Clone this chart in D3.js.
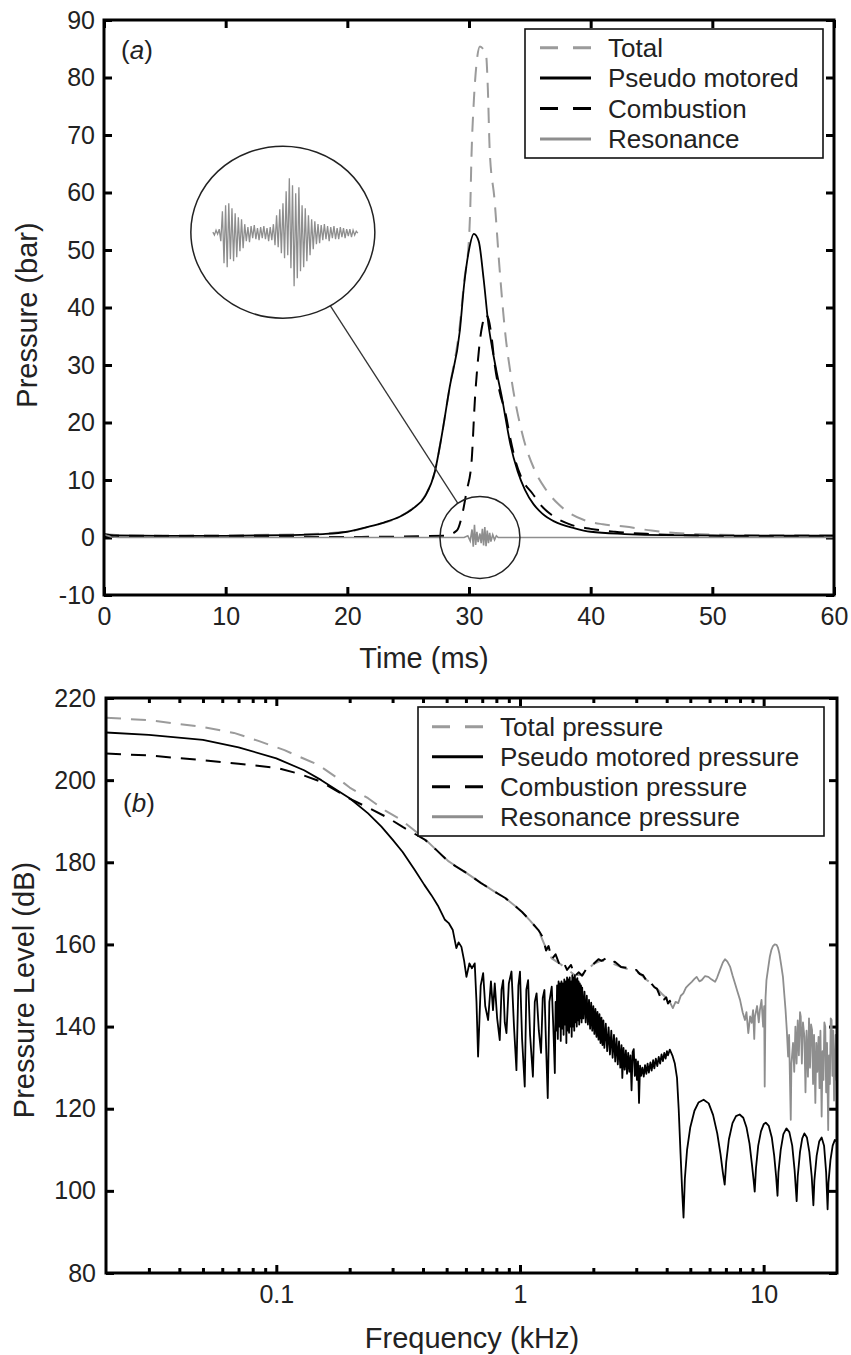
<!DOCTYPE html>
<html>
<head>
<meta charset="utf-8">
<script src="https://cdnjs.cloudflare.com/ajax/libs/d3/7.8.5/d3.min.js"></script>
<style>
body { margin: 0; background: #fff; }
svg text { font-family: "Liberation Sans", Arial, sans-serif; fill: #222; }
</style>
</head>
<body>
<script>
// ---- panel (a): time (ms) vs pressure (bar)
var totalA = [[0,0.6],[2,0.35],[10,0.4],[16,0.55],[20,1.0],[22,2.0],[24.3,3.6],[25.5,5.3],[26.4,7.3],[27.2,11.5],[27.7,17],[28.4,26],[29.25,37],[29.6,44.5],[30.0,52],[30.1,57],[30.2,66],[30.4,76],[30.6,82],[30.9,85.4],[31.15,85],[31.4,84],[31.55,78],[31.7,67.4],[32.1,58.7],[32.5,47.1],[32.95,36.1],[33.5,27.4],[34.3,18.7],[35.4,11.7],[36.3,8.4],[37.3,5.9],[38.3,4.2],[39.5,3.0],[41,2.3],[42.8,1.9],[45,1.2],[47,0.8],[50,0.5],[55,0.4],[60,0.4]];
var pseudoA = [[0,0.6],[1,0.35],[5,0.3],[10,0.3],[15,0.4],[18,0.6],[20,1.0],[21.6,1.8],[23,2.6],[24.3,3.6],[25.5,5.2],[26.4,7.2],[27.2,11.5],[27.7,17],[28.4,26],[29.25,36],[29.6,44],[30.0,50],[30.4,52.8],[30.8,51.5],[31.2,45],[31.6,37],[31.9,33],[32.3,28.5],[32.7,24.4],[33.0,20.8],[33.4,16.2],[34.0,11.5],[34.6,8.3],[35.3,5.8],[36.0,4.2],[37.0,2.8],[38.7,1.6],[40,1.0],[42.8,0.6],[46,0.4],[60,0.3]];
var combustionA = [[0,0.1],[20,0.1],[28,0.3],[29.0,1.2],[29.4,3.6],[29.8,8],[30.2,12.9],[30.5,24.5],[30.7,30],[30.9,34.3],[31.1,37],[31.35,38.8],[31.6,38],[31.85,35],[32.1,30.3],[32.5,25.5],[33.0,21.6],[33.4,17.2],[33.8,13.5],[34.4,10],[35.2,7.7],[36.0,5.4],[36.8,3.9],[38.4,2.2],[40,1.5],[42,1.0],[45,0.6],[50,0.3],[60,0.2]];
var resonanceA = [[0,0.5],[0.6,0.1],[1.2,0],[29.6,0],[29.9,0.3],[30.1,-0.6],[30.25,1.4],[30.35,-1.6],[30.45,2.2],[30.55,-1.3],[30.65,1.0],[30.75,-0.8],[30.9,0.7],[31.0,-1.0],[31.1,1.5],[31.2,-1.4],[31.3,1.8],[31.4,-1.5],[31.5,1.2],[31.6,-1.0],[31.7,0.8],[31.8,-0.7],[31.95,0.5],[32.1,-0.4],[32.25,0.3],[32.4,0],[60,0]];
// magnified resonance burst shown in the circle (relative amplitude)
var insetSignal = [1,-2,3,-1,4,
  -8,22,-30,28,-34,30,-26,25,-28,20,-24,16,-18,14,-15,
  9,-8,6,-9,7,-5,8,-6,5,-7,6,-5,7,-6,5,-8,6,-7,9,
  -12,18,-14,24,-20,30,-25,42,-22,55,-35,48,-53,40,-45,46,-38,28,-34,25,-28,18,-22,14,-16,
  12,-11,9,-10,8,-7,9,-6,7,-8,6,-5,7,-6,5,-6,6,-4,5,-5,4,-3,4,-4,3,-2,2,0];

// ---- panel (b): frequency (kHz) vs pressure level (dB)
var totalB = [[0.02,215.2],[0.03,214.6],[0.049,213],[0.067,211.5],[0.085,209.5],[0.108,207.3],[0.13,205.2],[0.149,203.7],[0.18,200.3],[0.2,198.2],[0.238,195.6],[0.28,192.6],[0.326,190.3],[0.405,185.8],[0.45,183.2],[0.51,180.2],[0.6,177.5],[0.69,175],[0.78,173],[0.87,171.3],[0.95,169.5],[1.02,167.9],[1.1,165.8],[1.19,163.5],[1.28,159],[1.35,156.6],[1.45,155.4],[1.56,154],[1.68,152.5],[1.8,152.6],[2.0,155.2],[2.16,156.1],[2.35,155.6],[2.6,154.5],[2.9,153.6],[3.1,153],[3.3,151.4],[3.47,150.5],[3.65,149.2],[3.82,148],[3.98,147],[4.12,146.2],[4.24,144.8]];
var pseudoB = [[0.02,211.6],[0.03,211.0],[0.05,209.8],[0.07,208.0],[0.1,205.3],[0.13,202.4],[0.153,200],[0.2,195.6],[0.238,191.9],[0.27,188.7],[0.3,185.5],[0.33,182.5],[0.37,178.1],[0.405,174.5],[0.433,172],[0.46,169.5],[0.492,166],[0.51,165.2],[0.53,163.5],[0.548,159.1],[0.56,160.5],[0.575,159.4],[0.59,156],[0.603,152.1],[0.62,155.4],[0.635,154.2],
  [0.652,155.4],[0.663,146],[0.673,132.7],[0.69,150],[0.706,153.0],[0.72,145],[0.74,141.6],[0.76,151],[0.775,144],[0.788,150.5],[0.806,142],[0.826,136.7],[0.84,149],[0.853,151.3],[0.866,141],[0.88,138.4],[0.9,150.5],[0.923,153.4],[0.945,140],[0.967,129.4],[0.985,150],[1.0,153.4],[1.02,137],[1.046,125.4],[1.062,149],[1.08,151.3],[1.1,138],[1.13,127.8],[1.15,146],[1.17,148.1],[1.195,139],[1.22,133.6],[1.24,147],[1.26,148.9],[1.28,135],[1.3,122.6],[1.32,146],[1.35,149.7],[1.37,140],[1.39,128.7],
  [1.40,146],[1.41,139],[1.42,150],[1.43,137],[1.44,151],[1.45,140],[1.46,150.5],[1.47,136.5],[1.48,151],[1.49,139.5],[1.50,150.5],[1.51,138],[1.52,151.5],[1.53,140.5],[1.54,151],[1.55,136],[1.56,152],[1.57,139],[1.58,151.5],[1.59,138.5],[1.60,152],[1.61,140],[1.62,151],[1.63,137.5],[1.64,152.5],[1.65,140],[1.66,152],[1.67,139],[1.68,152.5],[1.69,141],[1.70,151.5],[1.71,140],[1.72,151.8],[1.73,141.5],[1.74,151],[1.75,140.5],[1.76,150.5],[1.77,142],[1.78,150],[1.79,141],[1.80,149.5],[1.82,142],[1.84,148.5],[1.86,141],[1.88,147.5],[1.90,140.5],[1.92,146.5],[1.94,139.5],[1.96,145.8],[1.98,139],[2.00,145],[2.02,138.2],[2.04,144.3],[2.06,137.5],[2.08,143.6],[2.10,136.8],[2.12,143],[2.14,136],[2.16,142.2],[2.18,135.5],[2.20,141.5],[2.22,134.8],[2.25,140.7],[2.28,134],[2.31,139.8],[2.34,133.2],[2.37,139],[2.40,132.4],[2.43,138],[2.46,131.5],[2.49,137.2],[2.52,130.8],[2.55,136.4],[2.58,130],[2.61,135.5],[2.63,127.5],[2.66,134.8],[2.69,129.5],[2.72,134.2],[2.75,128.5],[2.78,133.6],[2.81,129],[2.84,133],[2.87,124.5],[2.9,133.8],[2.93,134.5],[2.96,128],[2.99,132],[3.02,127],[3.05,131.5],[3.08,121.4],[3.11,130.5],[3.14,128],[3.18,130],[3.22,127.8],[3.26,130.6],[3.3,128.5],[3.34,131],[3.38,128.8],[3.43,131.3],[3.47,129.3],[3.52,131.8],[3.56,129.8],[3.61,132.2],[3.66,130.4],[3.71,132.6],[3.76,131],[3.81,133.2],[3.86,131.6],[3.91,133.6],[3.96,132.2],[4.01,134],[4.05,133],[4.12,134.4],[4.22,133],[4.32,131],[4.41,127.5],[4.48,120],[4.56,109],[4.63,100],[4.69,93.5],
  [4.75,103],[4.85,110],[5.0,115.5],[5.2,119.5],[5.4,121.5],[5.67,122.2],[5.95,121.3],[6.2,118.5],[6.45,114],[6.65,109],[6.8,104.5],[6.92,101.5],
  [7.02,107],[7.2,112.5],[7.45,116.5],[7.7,118.2],[7.97,118.6],[8.25,117.8],[8.5,115.5],[8.75,111.5],[8.95,106.5],[9.1,102.5],[9.19,99.8],
  [9.3,105.5],[9.5,111],[9.75,114.5],[10.0,116.2],[10.2,116.6],[10.5,115.8],[10.8,113],[11.05,108.5],[11.25,103.5],[11.4,98.8],
  [11.5,104.5],[11.75,110],[12.05,113.8],[12.4,115.2],[12.75,114.3],[13.1,111],[13.4,105],[13.66,97.5],
  [13.8,103.5],[14.1,109.5],[14.4,112.8],[14.7,114],[15.05,113],[15.4,109.5],[15.75,103.5],[16.0,96.5],
  [16.15,102.5],[16.5,108.5],[16.9,112],[17.3,113],[17.7,111],[18.05,104.5],[18.3,95.5],
  [18.45,102],[18.8,107.5],[19.2,111],[19.6,112.4],[20.3,111.5]];
var combustionB = [[0.02,206.5],[0.03,206.0],[0.049,204.9],[0.07,204.0],[0.1,203],[0.125,201.5],[0.153,199.6],[0.2,195.5],[0.238,193.3],[0.288,190.8],[0.33,188.6],[0.405,185.6],[0.45,183.2],[0.51,180.1],[0.6,177.5],[0.69,175],[0.78,173],[0.87,171.3],[0.95,169.5],[1.02,167.9],[1.1,165.8],[1.19,163.5],[1.24,161.8],[1.28,158.5],[1.31,159.6],[1.35,156.4],[1.4,157.6],[1.45,155.2],[1.5,156.0],[1.56,153.8],[1.62,155.0],[1.68,152.3],[1.74,153.2],[1.8,152.4],[1.88,154.2],[2.0,155.2],[2.1,156.4],[2.16,156],[2.25,156.6],[2.35,155.5],[2.45,155.8],[2.6,154.5],[2.75,154.3],[2.9,153.5],[3.0,153.8],[3.1,152.8],[3.2,152.5],[3.3,151.2],[3.4,151.6],[3.47,150.4],[3.56,149.6],[3.65,149.2],[3.75,147.5],[3.82,148.2],[3.9,146.6],[3.98,147.1],[4.05,145.6],[4.12,146.3],[4.2,144.8]];
var resonanceB = [[4.11,146.1],[4.24,144.5],[4.35,146],[4.46,145.7],[4.57,147.5],[4.68,148.1],[4.8,149.5],[4.91,150.1],[5.07,150.9],[5.2,151.6],[5.31,152.1],[5.45,151],[5.57,151.3],[5.75,152.3],[5.93,152.1],[6.1,151.5],[6.32,150.9],[6.45,152],[6.62,153.8],[6.8,155.6],[6.94,156.4],[7.1,155.8],[7.28,154.6],[7.45,152.5],[7.63,150.5],[7.8,148.6],[8.0,146.5],[8.2,143.5],[8.38,141.6],[8.5,143.5],[8.65,138.4],[8.8,142.5],[8.93,140.9],[9.05,144],[9.15,137],[9.21,142.4],[9.4,145],[9.55,141],[9.65,144],[9.8,146.5],[9.95,140],[10.05,145],[10.1,125.4],[10.18,147],[10.27,151.3],[10.45,154.5],[10.6,157],[10.75,158.6],[10.9,159.5],[11.1,160],[11.3,159.9],[11.45,159.2],[11.6,157.8],[11.8,155],[12.0,152.1],[12.15,148],[12.3,144],[12.45,139],[12.6,132.7],[12.72,138],[12.85,124],[12.92,117.3],[13.0,131],[13.2,136],[13.35,129],[13.5,140],[13.65,131],[13.8,141.5],[13.95,133],[14.1,143.5],[14.2,142.4],[14.35,131],[14.5,141],[14.7,137.5],[14.85,124],[15.0,139],[15.2,127.8],[15.35,142],[15.5,130],[15.65,140.5],[15.8,139.2],[15.95,126],[16.1,138],[16.3,121.4],[16.45,136],[16.6,129],[16.8,137.5],[16.95,125],[17.1,139],[17.3,118.1],[17.45,134],[17.6,127],[17.75,141],[17.9,140],[18.05,124],[18.2,136],[18.4,114.8],[18.55,133],[18.7,126],[18.85,142],[19.0,141.6],[19.15,128],[19.3,139],[19.45,122],[19.6,131],[19.75,138],[19.9,127],[20.05,144],[20.3,142]];

var legendA = ["Total", "Pseudo motored", "Combustion", "Resonance"];
var legendB = ["Total pressure", "Pseudo motored pressure", "Combustion pressure", "Resonance pressure"];
var timeTicks = [0, 10, 20, 30, 40, 50, 60];
var pressureTicks = [-10, 0, 10, 20, 30, 40, 50, 60, 70, 80, 90];
var freqMajor = [0.1, 1, 10];
var freqMinor = [0.03, 0.04, 0.05, 0.06, 0.07, 0.08, 0.09, 0.2, 0.3, 0.4, 0.5, 0.6, 0.7, 0.8, 0.9, 2, 3, 4, 5, 6, 7, 8, 9];
var levelTicks = [80, 100, 120, 140, 160, 180, 200, 220];

// line styles, in legend order
var styles = [
    {color: "#9b9b9b", dash: "15,10", width: 2},
    {color: "#000", dash: null, width: 1.8},
    {color: "#000", dash: "15,10", width: 2},
    {color: "#8e8e8e", dash: null, width: 1.8}
];

var svg = d3.select("body").append("svg")
    .attr("width", 851)
    .attr("height", 1355);

function styleAxis(g, size) {
    g.select(".domain").remove();
    g.attr("font-size", size).attr("font-family", "Liberation Sans, Arial, sans-serif");
    g.selectAll(".tick line").attr("stroke", "#000").attr("stroke-width", 3);
    g.selectAll(".tick text").attr("fill", "#222");
}

function drawFrame(p) {
    svg.append("rect")
        .attr("x", p.left).attr("y", p.top)
        .attr("width", p.right - p.left).attr("height", p.bottom - p.top)
        .attr("fill", "none").attr("stroke", "#000").attr("stroke-width", 3);
}

function drawLegend(labels, box, rowY, lineX, textX) {
    svg.append("rect")
        .attr("x", box.x).attr("y", box.y).attr("width", box.w).attr("height", box.h)
        .attr("fill", "#fff").attr("stroke", "#111").attr("stroke-width", 1.6);
    var row = svg.selectAll(null).data(labels).enter().append("g")
        .attr("transform", function(d, i) { return "translate(0," + (rowY + i * box.step) + ")"; });
    row.append("line")
        .attr("x1", lineX).attr("x2", lineX + 51)
        .attr("stroke", function(d, i) { return styles[i].color; })
        .attr("stroke-width", 3)
        .attr("stroke-dasharray", function(d, i) { return styles[i].dash ? "18,15" : null; });
    row.append("text")
        .attr("x", textX).attr("y", 9)
        .attr("font-size", 26)
        .text(function(d) { return d; });
}

var plainNum = function(d) { return String(d); };

// ================= panel (a)
var a = {left: 104, right: 834, top: 20, bottom: 595};
var xA = d3.scaleLinear().domain([0, 60]).range([a.left, a.right]);
var yA = d3.scaleLinear().domain([-10, 90]).range([a.bottom, a.top]);

svg.append("clipPath").attr("id", "clipA").append("rect")
    .attr("x", a.left).attr("y", a.top).attr("width", a.right - a.left).attr("height", a.bottom - a.top);

svg.append("g").attr("transform", "translate(0," + a.bottom + ")")
    .call(d3.axisBottom(xA).tickValues(timeTicks).tickSizeInner(-8).tickSizeOuter(0).tickPadding(12).tickFormat(plainNum))
    .call(styleAxis, 25);
svg.append("g").attr("transform", "translate(0," + a.top + ")")
    .call(d3.axisTop(xA).tickValues(timeTicks).tickSizeInner(-8).tickSizeOuter(0).tickFormat(""))
    .call(styleAxis, 25);
svg.append("g").attr("transform", "translate(" + a.left + ",0)")
    .call(d3.axisLeft(yA).tickValues(pressureTicks).tickSizeInner(-8).tickSizeOuter(0).tickPadding(9).tickFormat(plainNum))
    .call(styleAxis, 25);
svg.append("g").attr("transform", "translate(" + a.right + ",0)")
    .call(d3.axisRight(yA).tickValues(pressureTicks).tickSizeInner(-8).tickSizeOuter(0).tickFormat(""))
    .call(styleAxis, 25);

var lineA = d3.line().x(function(d) { return xA(d[0]); }).y(function(d) { return yA(d[1]); })
    .curve(d3.curveMonotoneX);
var lineALin = d3.line().x(function(d) { return xA(d[0]); }).y(function(d) { return yA(d[1]); });

var plotA = svg.append("g").attr("clip-path", "url(#clipA)");
[totalA, pseudoA, combustionA, resonanceA].forEach(function(s, i) {
    plotA.append("path")
        .datum(s)
        .attr("fill", "none")
        .attr("stroke", styles[i].color)
        .attr("stroke-width", i == 3 ? 1.6 : styles[i].width)
        .attr("stroke-dasharray", styles[i].dash)
        .attr("d", i == 3 ? lineALin : lineA);
});

// magnifier circles
var small = {cx: xA(30.9), cy: yA(0), rx: 40, ry: 41};
var big = {cx: xA(14.7), cy: yA(53.1), rx: 92, ry: 86};
var dx = small.cx - big.cx, dy = small.cy - big.cy;
var tb = 1 / Math.sqrt(Math.pow(dx / big.rx, 2) + Math.pow(dy / big.ry, 2));
var ts = 1 / Math.sqrt(Math.pow(dx / small.rx, 2) + Math.pow(dy / small.ry, 2));
svg.append("line")
    .attr("x1", big.cx + dx * tb).attr("y1", big.cy + dy * tb)
    .attr("x2", small.cx - dx * ts).attr("y2", small.cy - dy * ts)
    .attr("stroke", "#333").attr("stroke-width", 1.3);
[small, big].forEach(function(c) {
    svg.append("ellipse")
        .attr("cx", c.cx).attr("cy", c.cy).attr("rx", c.rx).attr("ry", c.ry)
        .attr("fill", "none").attr("stroke", "#222").attr("stroke-width", 1.5);
});

var xIn = d3.scaleLinear().domain([0, insetSignal.length - 1]).range([big.cx - 70, big.cx + 75]);
var yIn = d3.scaleLinear().domain([-60, 60]).range([big.cy + 61, big.cy - 59]);
svg.append("path")
    .datum(insetSignal)
    .attr("fill", "none")
    .attr("stroke", "#8e8e8e")
    .attr("stroke-width", 1.3)
    .attr("d", d3.line().x(function(d, i) { return xIn(i); }).y(function(d) { return yIn(d); }));

drawLegend(legendA, {x: 525, y: 29, w: 298, h: 129, step: 30.4}, 47.7, 540, 608);

svg.append("text").attr("x", 121).attr("y", 59).attr("font-size", 26)
    .html('(<tspan font-style="italic">a</tspan>)');
svg.append("text").attr("x", 424).attr("y", 668).attr("font-size", 29)
    .attr("text-anchor", "middle").text("Time (ms)");
svg.append("text").attr("transform", "translate(37,315) rotate(-90)").attr("font-size", 29)
    .attr("text-anchor", "middle").text("Pressure (bar)");

// ================= panel (b)
var b = {left: 106, right: 837, top: 698, bottom: 1273};
var xB = d3.scaleLog().domain([0.02, 20]).range([b.left, b.right]);
var yB = d3.scaleLinear().domain([80, 220]).range([b.bottom, b.top]);

svg.append("clipPath").attr("id", "clipB").append("rect")
    .attr("x", b.left).attr("y", b.top).attr("width", b.right - b.left).attr("height", b.bottom - b.top);

svg.append("g").attr("transform", "translate(0," + b.bottom + ")")
    .call(d3.axisBottom(xB).tickValues(freqMinor).tickSizeInner(-5).tickSizeOuter(0).tickFormat(""))
    .call(styleAxis, 25);
svg.append("g").attr("transform", "translate(0," + b.bottom + ")")
    .call(d3.axisBottom(xB).tickValues(freqMajor).tickSizeInner(-8).tickSizeOuter(0).tickPadding(12).tickFormat(plainNum))
    .call(styleAxis, 25);
svg.append("g").attr("transform", "translate(0," + b.top + ")")
    .call(d3.axisTop(xB).tickValues(freqMinor).tickSizeInner(-5).tickSizeOuter(0).tickFormat(""))
    .call(styleAxis, 25);
svg.append("g").attr("transform", "translate(0," + b.top + ")")
    .call(d3.axisTop(xB).tickValues(freqMajor).tickSizeInner(-8).tickSizeOuter(0).tickFormat(""))
    .call(styleAxis, 25);
svg.append("g").attr("transform", "translate(" + b.left + ",0)")
    .call(d3.axisLeft(yB).tickValues(levelTicks).tickSizeInner(-8).tickSizeOuter(0).tickPadding(10).tickFormat(plainNum))
    .call(styleAxis, 25);
svg.append("g").attr("transform", "translate(" + b.right + ",0)")
    .call(d3.axisRight(yB).tickValues(levelTicks).tickSizeInner(-8).tickSizeOuter(0).tickFormat(""))
    .call(styleAxis, 25);

var lineB = d3.line().x(function(d) { return xB(d[0]); }).y(function(d) { return yB(d[1]); });
var plotB = svg.append("g").attr("clip-path", "url(#clipB)");
// draw order: total, resonance, combustion, pseudo motored on top
[[totalB, 0], [resonanceB, 3], [combustionB, 2], [pseudoB, 1]].forEach(function(s) {
    var st = styles[s[1]];
    plotB.append("path")
        .datum(s[0])
        .attr("fill", "none")
        .attr("stroke", st.color)
        .attr("stroke-width", st.width)
        .attr("stroke-linejoin", "round")
        .attr("stroke-dasharray", st.dash)
        .attr("d", lineB);
});

drawFrame(a);
drawFrame(b);

drawLegend(legendB, {x: 418, y: 707, w: 406, h: 129, step: 30}, 726.7, 432, 500);

svg.append("text").attr("x", 123).attr("y", 812).attr("font-size", 26)
    .html('(<tspan font-style="italic">b</tspan>)');
svg.append("text").attr("x", 472).attr("y", 1348).attr("font-size", 29)
    .attr("text-anchor", "middle").text("Frequency (kHz)");
svg.append("text").attr("transform", "translate(34,990) rotate(-90)").attr("font-size", 29)
    .attr("text-anchor", "middle").text("Pressure Level (dB)");
</script>
</body>
</html>
